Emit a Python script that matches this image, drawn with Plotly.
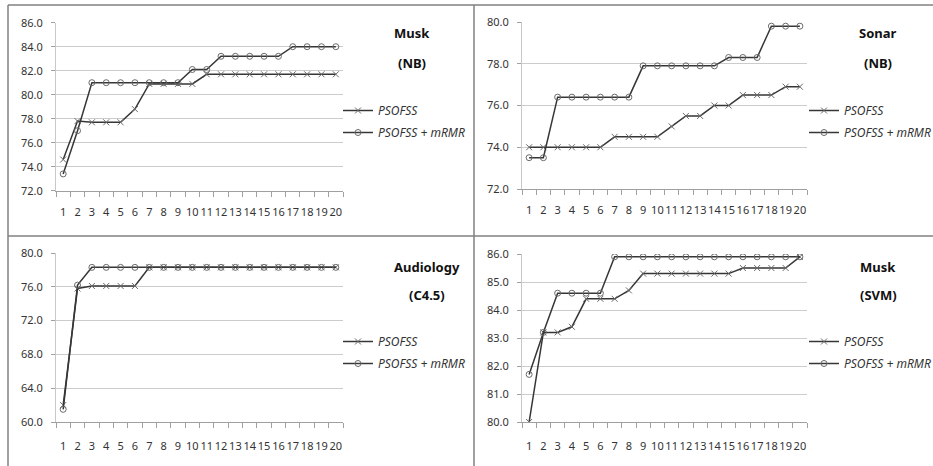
import plotly.graph_objects as go

W, H = 933, 466

iterations = [str(i) for i in range(1, 21)]

musk_nb_psofss = [74.6, 77.8, 77.7, 77.7, 77.7, 78.8, 80.9, 80.9, 80.9, 80.9,
                  81.7, 81.7, 81.7, 81.7, 81.7, 81.7, 81.7, 81.7, 81.7, 81.7]
musk_nb_mrmr = [73.4, 77.0, 81.0, 81.0, 81.0, 81.0, 81.0, 81.0, 81.0, 82.1,
                82.1, 83.2, 83.2, 83.2, 83.2, 83.2, 84.0, 84.0, 84.0, 84.0]

sonar_nb_psofss = [74.0, 74.0, 74.0, 74.0, 74.0, 74.0, 74.5, 74.5, 74.5, 74.5,
                   75.0, 75.5, 75.5, 76.0, 76.0, 76.5, 76.5, 76.5, 76.9, 76.9]
sonar_nb_mrmr = [73.5, 73.5, 76.4, 76.4, 76.4, 76.4, 76.4, 76.4, 77.9, 77.9,
                 77.9, 77.9, 77.9, 77.9, 78.3, 78.3, 78.3, 79.8, 79.8, 79.8]

audio_c45_psofss = [62.0, 75.8, 76.1, 76.1, 76.1, 76.1, 78.3, 78.3, 78.3, 78.3,
                    78.3, 78.3, 78.3, 78.3, 78.3, 78.3, 78.3, 78.3, 78.3, 78.3]
audio_c45_mrmr = [61.5, 76.2, 78.3, 78.3, 78.3, 78.3, 78.3, 78.3, 78.3, 78.3,
                  78.3, 78.3, 78.3, 78.3, 78.3, 78.3, 78.3, 78.3, 78.3, 78.3]

musk_svm_psofss = [80.0, 83.2, 83.2, 83.4, 84.4, 84.4, 84.4, 84.7, 85.3, 85.3,
                   85.3, 85.3, 85.3, 85.3, 85.3, 85.5, 85.5, 85.5, 85.5, 85.9]
musk_svm_mrmr = [81.7, 83.2, 84.6, 84.6, 84.6, 84.6, 85.9, 85.9, 85.9, 85.9,
                 85.9, 85.9, 85.9, 85.9, 85.9, 85.9, 85.9, 85.9, 85.9, 85.9]

series_names = ["PSOFSS", "PSOFSS + mRMR"]
panel_titles = [("Musk", "(NB)"), ("Sonar", "(NB)"), ("Audiology", "(C4.5)"), ("Musk", "(SVM)")]
y_ranges = [(72, 86, 2), (72, 80, 2), (60, 80, 4), (80, 86, 1)]

panels = [
    (musk_nb_psofss, musk_nb_mrmr),
    (sonar_nb_psofss, sonar_nb_mrmr),
    (audio_c45_psofss, audio_c45_mrmr),
    (musk_svm_psofss, musk_svm_mrmr),
]

# pixel geometry (x0, x1, ytop, ybottom)
geo = [
    (56, 343, 22.7, 190.7),
    (522, 807, 22.0, 189.0),
    (56, 343, 253.0, 422.0),
    (522, 807, 254.0, 422.0),
]
legend_pos = [(338, 96), (804, 96), (338, 327), (804, 327)]
title_pos = [(412, 33, 63), (878, 33, 63), (427, 267, 295), (878, 267, 295)]
x_standoff = [11, 11, 14, 14]

FONT = "Noto Sans"
fig = go.Figure()
layout = dict(
    width=W, height=H, autosize=False,
    margin=dict(l=0, r=0, t=0, b=0, pad=0, autoexpand=False),
    paper_bgcolor="white", plot_bgcolor="white",
    font=dict(family=FONT, color="#333333", size=11),
    showlegend=True,
)
annotations = []
shapes = []

for i, (ps, mr) in enumerate(panels):
    n = i + 1
    xa = "x" if n == 1 else f"x{n}"
    ya = "y" if n == 1 else f"y{n}"
    lg = "legend" if n == 1 else f"legend{n}"
    fig.add_trace(go.Scatter(
        x=iterations, y=ps, name=series_names[0], mode="lines+markers",
        xaxis=xa, yaxis=ya, legend=lg, legendgroup=f"a{n}",
        line=dict(color="#363636", width=1.5),
        marker=dict(symbol="x-thin", size=6, color="#6a6a6a",
                    line=dict(width=1, color="#6a6a6a")),
    ))
    fig.add_trace(go.Scatter(
        x=iterations, y=mr, name=series_names[1], mode="lines+markers",
        xaxis=xa, yaxis=ya, legend=lg, legendgroup=f"b{n}",
        line=dict(color="#363636", width=1.5),
        marker=dict(symbol="circle-open", size=6, color="#6a6a6a",
                    line=dict(width=1, color="#6a6a6a")),
    ))
    x0, x1, yt, yb = geo[i]
    lo, hi, dt = y_ranges[i]
    xk = "xaxis" if n == 1 else f"xaxis{n}"
    yk = "yaxis" if n == 1 else f"yaxis{n}"
    layout[xk] = dict(
        domain=[x0 / W, x1 / W], anchor=ya, type="category",
        range=[-0.5, len(iterations) - 0.5], autorange=False,
        tickmode="array", tickvals=iterations, ticktext=iterations, tickangle=0,
        tickson="boundaries", ticks="outside", ticklen=5, tickcolor="#a0a0a0",
        showline=True, linecolor="#a0a0a0", linewidth=1, showgrid=False,
        tickfont=dict(family=FONT, size=11, color="#333333"),
        ticklabelstandoff=x_standoff[i], zeroline=False, automargin=False,
    )
    layout[yk] = dict(
        domain=[1 - yb / H, 1 - yt / H], anchor=xa,
        range=[lo, hi], autorange=False, dtick=dt, tick0=lo, tickformat=".1f",
        ticks="outside", ticklen=4, tickcolor="#a0a0a0",
        showline=True, linecolor="#c8c8c8", linewidth=1,
        showgrid=True, gridcolor="#cccccc", gridwidth=1, zeroline=False,
        tickfont=dict(family=FONT, size=11, color="#333333"),
        ticklabelstandoff=6, automargin=False,
    )
    lx, ly = legend_pos[i]
    layout[lg] = dict(
        x=lx / W, y=1 - ly / H, xanchor="left", yanchor="top",
        bgcolor="rgba(0,0,0,0)", borderwidth=0,
        font=dict(family=FONT, size=12, color="#333333", style="italic"),
        itemwidth=30, tracegroupgap=3, traceorder="grouped",
    )
    tx, ty1, ty2 = title_pos[i]
    for txt, ty in ((panel_titles[i][0], ty1), (panel_titles[i][1], ty2)):
        annotations.append(dict(
            x=tx / W, y=1 - ty / H, xref="paper", yref="paper",
            text=f"<b>{txt}</b>", showarrow=False, xanchor="center", yanchor="middle",
            font=dict(family=FONT, size=13, color="#111111"),
        ))

# panel frames
border = dict(color="#808080", width=1.5)
for (ax0, ay0, ax1, ay1) in [(8, 5, 933, 5), (8, 5, 8, 466), (474, 5, 474, 466), (8, 236, 933, 236)]:
    shapes.append(dict(type="line", xref="paper", yref="paper",
                       x0=ax0 / W, y0=1 - ay0 / H, x1=ax1 / W, y1=1 - ay1 / H,
                       line=border))

layout["annotations"] = annotations
layout["shapes"] = shapes
fig.update_layout(**layout)
fig.write_html(
    "out.html",
    config={"displayModeBar": False},
    post_script="document.body.style.margin='0';document.documentElement.style.overflow='hidden';document.body.style.overflow='hidden';",
)
